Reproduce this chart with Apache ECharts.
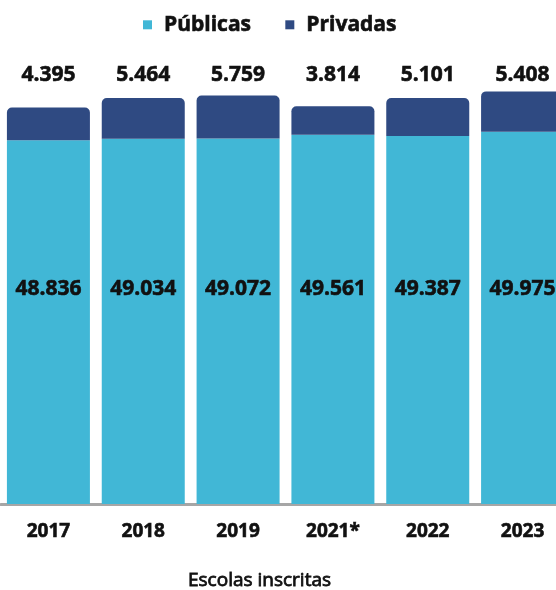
<!DOCTYPE html>
<html>
<head>
<meta charset="utf-8">
<script src="https://cdn.jsdelivr.net/npm/echarts@6/dist/echarts.min.js"></script>
<style>html,body{margin:0;padding:0;background:#fff}#chart{width:556px;height:590px}</style>
</head>
<body>
<div id="chart"></div>
<script>
var anos = ['2017','2018','2019','2021*','2022','2023'];
var publicas = [48836,49034,49072,49561,49387,49975];
var privadas = [4395,5464,5759,3814,5101,5408];

function fmt(v){ return String(v).replace(/\B(?=(\d{3})+(?!\d))/g,'.'); }

var font = 'Open Sans';
// texto um pouco mais grosso, como no original
var heavy = {fontFamily:font,fontWeight:'bold',color:'#111',textBorderColor:'#111',textBorderWidth:0.6};
var ch = echarts.init(document.getElementById('chart'));
ch.setOption({
    animation:false,
    textStyle:{fontFamily:font},
    title:{text:'Escolas inscritas',left:188,top:571,padding:0,
        textStyle:{fontSize:19,fontWeight:'normal',color:'#111',fontFamily:font,textBorderColor:'#111',textBorderWidth:0.8}},
    legend:{top:14,left:143,icon:'rect',itemWidth:9,itemHeight:9,itemGap:34,padding:0,
        textStyle:Object.assign({fontSize:21,padding:[0,0,0,7]},heavy),
        data:['Públicas','Privadas']},
    grid:{left:1,top:57,width:569,height:447,outerBoundsMode:'none',containLabel:false},
    xAxis:[{type:'category',data:anos,position:'bottom',
        axisLine:{lineStyle:{color:'#a6a6a6',width:3}},axisTick:{show:false},
        axisLabel:Object.assign({margin:18,fontSize:19},heavy)},
      {type:'category',data:anos,position:'top',
        axisLine:{show:false},axisTick:{show:false},
        axisLabel:Object.assign({inside:true,margin:8,fontSize:21,
            formatter:function(v,i){return fmt(privadas[i]);}},heavy)}],
    yAxis:{type:'value',min:0,max:60000,show:false,splitLine:{show:false}},
    series:[
        {name:'Públicas',type:'bar',stack:'t',barWidth:83,data:publicas,
            itemStyle:{color:'#41b7d6'},
            label:Object.assign({show:true,position:'insideBottom',distance:204,fontSize:21,
                formatter:function(p){return fmt(p.value);}},heavy)},
        {name:'Privadas',type:'bar',stack:'t',barWidth:83,data:privadas,
            itemStyle:{color:'#2f4a82',borderRadius:[5,5,0,0]}}
    ]
});
</script>
</body>
</html>
